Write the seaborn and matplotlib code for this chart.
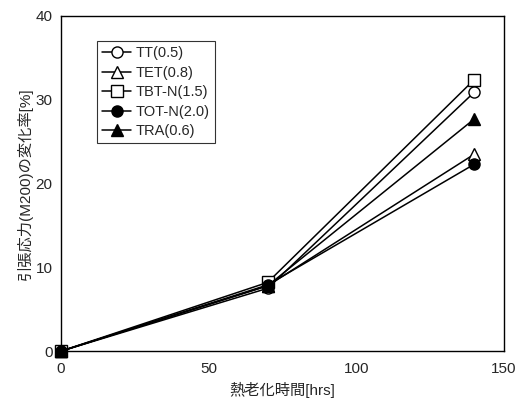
import pandas as pd
import matplotlib
matplotlib.use("Agg")
import matplotlib.pyplot as plt
import seaborn as sns

# 熱老化時間 [hrs]
hours = [0, 70, 140]

# 引張応力(M200)の変化率 [%]
tt = [0, 7.5, 30.9]
tet = [0, 7.8, 23.5]
tbt_n = [0, 8.2, 32.4]
tot_n = [0, 7.9, 22.3]
tra = [0, 7.8, 27.7]

series = {
    "TT(0.5)": tt,
    "TET(0.8)": tet,
    "TBT-N(1.5)": tbt_n,
    "TOT-N(2.0)": tot_n,
    "TRA(0.6)": tra,
}

rows = []
for name, vals in series.items():
    for h, v in zip(hours, vals):
        rows.append({"hrs": h, "val": v, "sample": name})
df = pd.DataFrame(rows)

sns.set_style("white")
plt.rcParams['font.family'] = ['Liberation Sans', 'Noto Sans CJK JP']

markers = {"TT(0.5)": "o", "TET(0.8)": "^", "TBT-N(1.5)": "s",
           "TOT-N(2.0)": "o", "TRA(0.6)": "^"}
faces = {"TT(0.5)": "white", "TET(0.8)": "white", "TBT-N(1.5)": "white",
         "TOT-N(2.0)": "black", "TRA(0.6)": "black"}

fig, ax = plt.subplots(figsize=(5.22, 3.99), dpi=100)

for name in series:
    sub = df[df["sample"] == name]
    sns.lineplot(data=sub, x="hrs", y="val", ax=ax, color="black",
                 linewidth=1.1, marker=markers[name], markersize=8,
                 markerfacecolor=faces[name], markeredgecolor="black",
                 markeredgewidth=1.0, label=name, clip_on=False)

ax.set_xlim(0, 150)
ax.set_ylim(0, 40)
ax.set_xticks([0, 50, 100, 150])
ax.set_yticks([0, 10, 20, 30, 40])
ax.tick_params(axis="y", length=0, labelsize=11, pad=6)
ax.tick_params(axis="x", length=0, labelsize=11, pad=8)
for s in ax.spines.values():
    s.set_color("black")
    s.set_linewidth(1.0)

ax.set_xlabel("熱老化時間[hrs]", fontsize=11, labelpad=4)
ax.set_ylabel("引張応力(M200)の変化率[%]", fontsize=11, labelpad=2)

leg = ax.legend(loc="upper left", bbox_to_anchor=(0.081, 0.925), fontsize=10.5,
                frameon=True, fancybox=False, edgecolor="black",
                handlelength=2.0, handletextpad=0.3, borderpad=0.35,
                labelspacing=0.38, borderaxespad=0)
leg.get_frame().set_linewidth(0.8)

fig.subplots_adjust(left=0.117, right=0.965, top=0.96, bottom=0.12)
fig.savefig("out.png", dpi=100)
